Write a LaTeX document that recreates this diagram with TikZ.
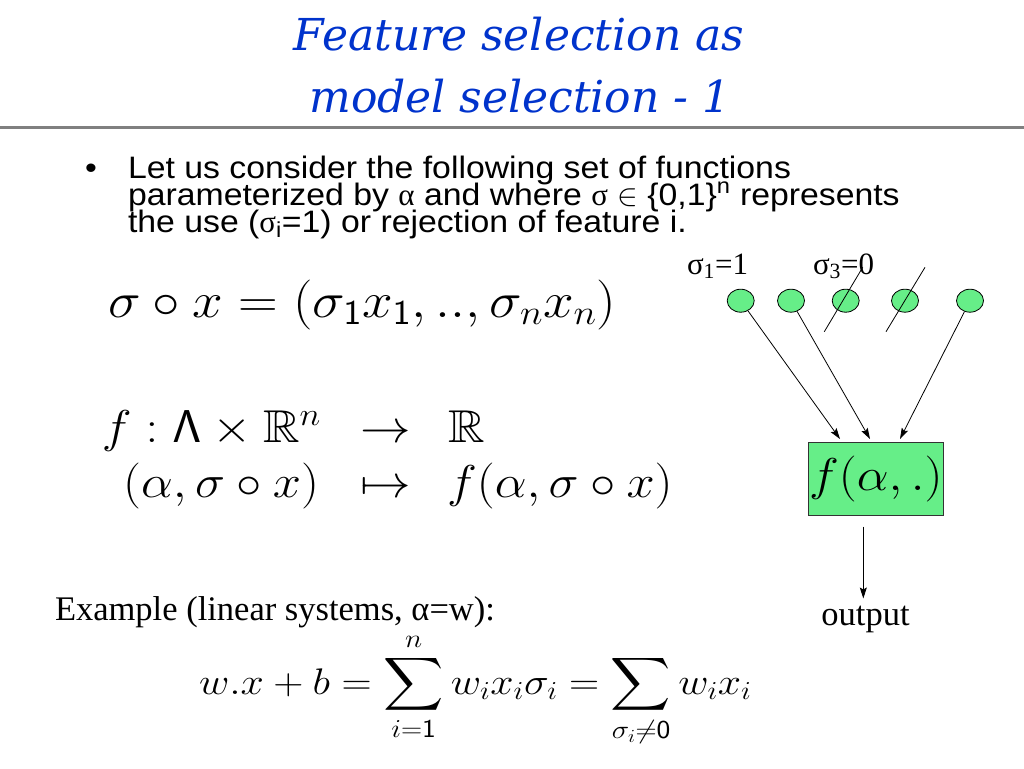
\RequirePackage{fix-cm}
\documentclass[tikz,border=0pt]{standalone}
\usepackage{graphicx}
\usepackage{amsmath,amssymb}
\usepackage[no-math]{fontspec}
\setmainfont{Liberation Serif}
\newfontfamily\bodyfont{Liberation Sans}[FakeStretch=1.09]
\newfontfamily\titlefont{DejaVu Serif}
\newfontfamily\gkfont{Liberation Serif}
\usetikzlibrary{shapes.geometric,arrows.meta}
\definecolor{titleblue}{RGB}{0,51,204}
\definecolor{featgreen}{RGB}{102,238,136}
\definecolor{rulegray}{RGB}{128,128,128}
\newcommand\mstretch[1]{\scalebox{1.1}[1]{#1}}
\begin{document}
\begin{tikzpicture}[x=1pt,y=-1pt,
  txt/.style={inner sep=0pt,outer sep=0pt,anchor=base west},
  ttl/.style={inner sep=0pt,anchor=base,text=titleblue,font=\titlefont\itshape\fontsize{44}{50}\selectfont},
  body/.style={txt,font=\bodyfont\fontsize{31}{26}\selectfont},
  serif/.style={txt,font=\fontsize{34.5}{40}\selectfont},
  lbl/.style={txt,font=\fontsize{31}{35}\selectfont},
  bigmath/.style={txt,font=\fontsize{50}{60}\selectfont},
  midmath/.style={txt,font=\fontsize{46}{56}\selectfont},
  summath/.style={txt,font=\fontsize{37}{45}\selectfont},
  feat/.style={ellipse,draw=black,line width=0.8pt,fill=featgreen,minimum width=27pt,minimum height=23pt,inner sep=0pt},
  fbox/.style={draw=black!80,line width=0.8pt,fill=featgreen,minimum width=135pt,minimum height=73pt,inner sep=0pt,font=\fontsize{46}{56}\selectfont},
  arr/.style={line width=0.8pt,-{Stealth[length=11pt,width=7pt,inset=2pt]}},
  slash/.style={line width=0.8pt}
]
\useasboundingbox (0,0) rectangle (1024,768);
\fill[white] (0,0) rectangle (1024,768);

% title
\node[ttl] (t1) at (519,50) {Feature selection as};
\node[ttl] (t2) at (520,112) {model selection - 1};
\draw[rulegray,line width=3pt] (0,127.5) -- (1024,127.5);

% bullet text
\node[body,anchor=base] (bul) at (91,178) {•};
\node[body] (b1) at (128,178) {Let us consider the following set of functions};
\node[body] (b2) at (128,205) {parameterized by {\gkfont α} and where {\gkfont σ} $\in$ \{0,1\}\textsuperscript{n} represents};
\node[body] (b3) at (128,232) {the use ({\gkfont σ}\textsubscript{i}=1) or rejection of feature i.};

% equations
\node[bigmath] (eq1) at (108,317) {\mstretch{$\sigma\circ x=(\sigma_{\mathsf{1}}x_{\mathsf{1}},..,\sigma_nx_n)$}};
\node[midmath,anchor=base east] (e2a) at (321,442) {\mstretch{$f:\mathsf{\Lambda}\times\mathbb{R}^n$}};
\node[midmath,anchor=base] (e2b) at (386,442) {\mstretch{$\rightarrow$}};
\node[midmath] (e2c) at (448,442) {\mstretch{$\mathbb{R}$}};
\node[midmath,anchor=base east] (e3a) at (319,497) {\mstretch{$(\alpha,\sigma\circ x)$}};
\node[midmath,anchor=base] (e3b) at (386,497) {\mstretch{$\mapsto$}};
\node[midmath] (e3c) at (447,497) {\mstretch{$f(\alpha,\sigma\circ x)$}};

\node[serif] (ex) at (55,620) {Example (linear systems, α=w):};
\node[summath] (eq3) at (199,694) {\scalebox{1.13}[1]{$\displaystyle w.x+b=\sum_{i=\mathsf{1}}^{n}w_ix_i\sigma_i=\sum_{\sigma_i\neq\mathsf{0}}w_ix_i$}};

% diagram
\node[lbl] (l1) at (687,274) {σ\textsubscript{1}=1};
\node[lbl] (l3) at (813,274) {σ\textsubscript{3}=0};
\node[feat] (c1) at (740.7,300.7) {};
\node[feat] (c2) at (791,300.7) {};
\node[feat] (c3) at (845.7,300.7) {};
\node[feat] (c4) at (905,300.7) {};
\node[feat] (c5) at (970,300.7) {};
\coordinate (s1a) at (824.3,331.7);
\coordinate (s1b) at (862.7,267.3);
\coordinate (s2a) at (886,331.7);
\coordinate (s2b) at (925,267.3);
\draw[slash] (s1a) -- (s1b);
\draw[slash] (s2a) -- (s2b);

\node[fbox] (box) at (875.8,478.7) {\mstretch{$f(\alpha,.)$}};
\coordinate (a1) at (840,439);
\coordinate (a2) at (870,439);
\coordinate (a5) at (900,439);
\draw[arr] (c1) -- (a1);
\draw[arr] (c2) -- (a2);
\draw[arr] (c5) -- (a5);
\coordinate (oc) at (863.3,598.5);
\draw[arr,shorten <=11pt] (box.south -| oc) -- (oc);
\node[serif,anchor=base] (out) at (865.5,625) {output};
\end{tikzpicture}
\end{document}
